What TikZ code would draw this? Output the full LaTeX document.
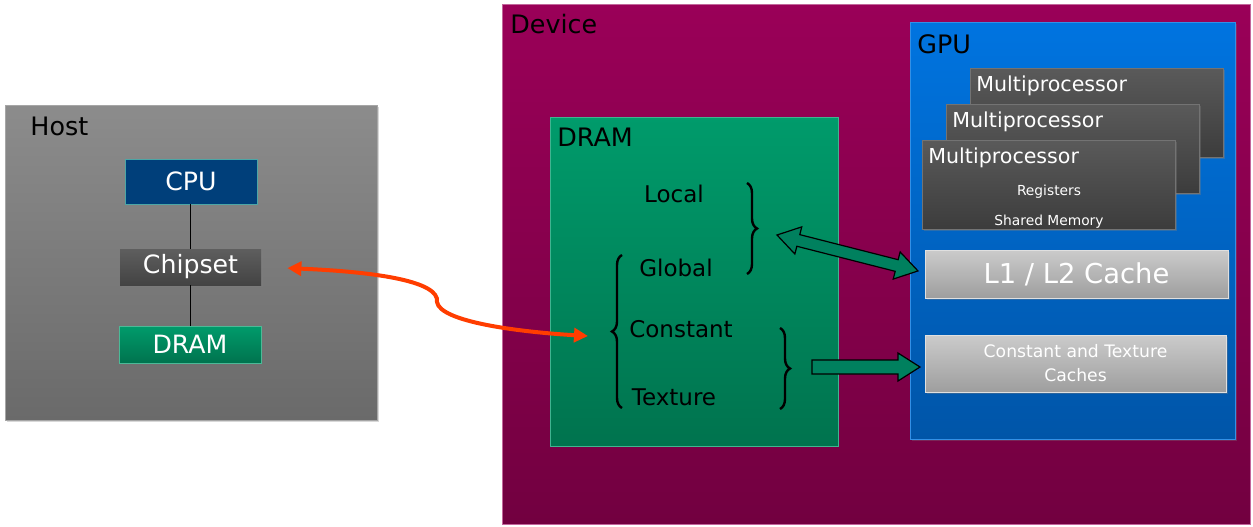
\documentclass[tikz,border=0pt]{standalone}
\usepackage{fontspec}
\setmainfont{DejaVu Sans}
\usepackage{xcolor}
\usetikzlibrary{arrows.meta,decorations.pathreplacing,shadows}
\definecolor{hosttop}{HTML}{8C8C8C}
\definecolor{hostbot}{HTML}{6A6A6A}
\definecolor{cpublue}{HTML}{003F7A}
\definecolor{chiptop}{HTML}{5E5E5E}
\definecolor{chipbot}{HTML}{434343}
\definecolor{dramtop}{HTML}{009B6B}
\definecolor{drambot}{HTML}{00734E}
\definecolor{devtop}{HTML}{9A0058}
\definecolor{devbot}{HTML}{720040}
\definecolor{gputop}{HTML}{0074E0}
\definecolor{gpubot}{HTML}{0055A8}
\definecolor{mptop}{HTML}{5A5A5A}
\definecolor{mpbot}{HTML}{3C3C3C}
\definecolor{cachetop}{HTML}{CBCBCB}
\definecolor{cachebot}{HTML}{9E9E9E}
\definecolor{busred}{HTML}{FF3D00}
\definecolor{arrowgreen}{HTML}{00805E}

\begin{document}
\begin{tikzpicture}[x=0.5pt, y=-0.5pt,
		title/.style={anchor=base west, inner sep=0pt, font=\fontsize{12.7}{15}\selectfont},
		hostchip/.style={text=white, inner sep=0pt, font=\fontsize{12.6}{15}\selectfont},
		memlabel/.style={anchor=base, inner sep=0pt, font=\fontsize{11.5}{14}\selectfont},
		mpbox/.style={anchor=north west, minimum width=126.5pt, minimum height=44.5pt, draw=black!55, top color=mptop, bottom color=mpbot, drop shadow={shadow xshift=1pt, shadow yshift=-1pt, opacity=.35}},
		mplabel/.style={anchor=base west, inner sep=0pt, text=white, font=\fontsize{10.3}{12}\selectfont},
		cachebox/.style={draw=black!12, top color=cachetop, bottom color=cachebot, text=white, inner sep=0pt, align=center, drop shadow={shadow xshift=1pt, shadow yshift=-1pt, opacity=.35}},
		bracket/.style={decorate, decoration={brace, amplitude=5pt}, line width=1.2pt},
		blockarrow/.style={fill=arrowgreen, draw=black, line width=0.6pt}]
		\useasboundingbox[fill=white] (0,0) rectangle (1253,526);
		% host side
		\path[draw=black!35, top color=hosttop, bottom color=hostbot, drop shadow={shadow xshift=1pt, shadow yshift=-1pt, opacity=.3}] (5,105) rectangle (377,420);
		\node[title] (host) at (30,135) {Host};
		\node[hostchip, fill=cpublue, draw=teal!70, minimum width=66pt, minimum height=22.5pt] (cpu) at (191,181.5) {CPU};
		\node[hostchip, top color=chiptop, bottom color=chipbot, minimum width=70.5pt, minimum height=18pt, drop shadow={shadow xshift=1pt, shadow yshift=-1pt, opacity=.3}] (chip) at (190.5,267) {Chipset};
		\node[hostchip, top color=dramtop, bottom color=drambot, draw=dramtop!70!white, minimum width=71pt, minimum height=18.5pt] (hdram) at (190,344.5) {DRAM};
		\draw[line width=0.7pt] (cpu.south -| chip.north) -- (chip.north);
		\draw[line width=0.7pt] (chip.south) -- (hdram.north -| chip.south);
		% device side
		\path[draw=devtop!60!white, line width=0.5pt, top color=devtop, bottom color=devbot] (502,4) rectangle (1250,524);
		\node[title] (device) at (510,33) {Device};
		\path[draw=dramtop!75!white, top color=dramtop, bottom color=drambot] (550,117) rectangle (838,446);
		\node[title] (ddram) at (557,146) {DRAM};
		\node[memlabel] (local) at (674,202) {Local};
		\node[memlabel] (global) at (676,276) {Global};
		\node[memlabel] (const) at (681,337) {Constant};
		\node[memlabel] (tex) at (674,405) {Texture};
		\draw[bracket] (747,183) -- (747,274);
		\draw[bracket] (622,408) -- (622,255);
		\draw[bracket] (780,328) -- (780,409);
		% gpu
		\path[draw=gputop!80!white, top color=gputop, bottom color=gpubot, drop shadow={shadow xshift=1pt, shadow yshift=-1pt, opacity=.3}] (910,22) rectangle (1235,439);
		\node[title] (gpu) at (917,53) {GPU};
		\node[mpbox] (mp3) at (970,68) {};
		\node[mplabel] at (976,91) {Multiprocessor};
		\node[mpbox] (mp2) at (946,104) {};
		\node[mplabel] at (952,127) {Multiprocessor};
		\node[mpbox] (mp1) at (922,140) {};
		\node[mplabel] (mp1name) at (928,163) {Multiprocessor};
		\node[anchor=base, inner sep=0pt, text=white, font=\fontsize{6.9}{8}\selectfont] (regs) at (1049,195) {Registers};
		\node[anchor=base, inner sep=0pt, text=white, font=\fontsize{6.9}{8}\selectfont] (shmem) at (1049,225) {Shared Memory};
		\node[cachebox, minimum width=151.5pt, minimum height=24pt, font=\fontsize{13.7}{16}\selectfont] (l1) at (1076.5,274) {L1 / L2 Cache};
		\node[cachebox, minimum width=150.5pt, minimum height=28.5pt, font=\fontsize{8.6}{12}\selectfont] (ctc) at (1075.5,363.5) {Constant and Texture\\Caches};
		% block arrows
		\begin{scope}[shift={(777,235)}, rotate=-14.3]
			\filldraw[blockarrow] (0,0) -- (22,14) -- (22,6) -- (123.5,6) -- (123.5,14) -- (145.5,0) -- (123.5,-14) -- (123.5,-6) -- (22,-6) -- (22,-14) -- cycle;
		\end{scope}
		\filldraw[blockarrow] (812,360) -- (898,360) -- (898,353) -- (920,367) -- (898,381) -- (898,374) -- (812,374) -- cycle;
		% bus
		\coordinate (memin) at (588,336);
		\draw[busred, line width=2pt, {Triangle[length=7pt,width=7pt]}-{Triangle[length=7pt,width=7pt]}, shorten <=13pt] (chip.east) .. controls (380,272) and (440,282) .. (437,302) .. controls (440,322) and (520,332) .. (memin);
	\end{tikzpicture}
\end{document}
